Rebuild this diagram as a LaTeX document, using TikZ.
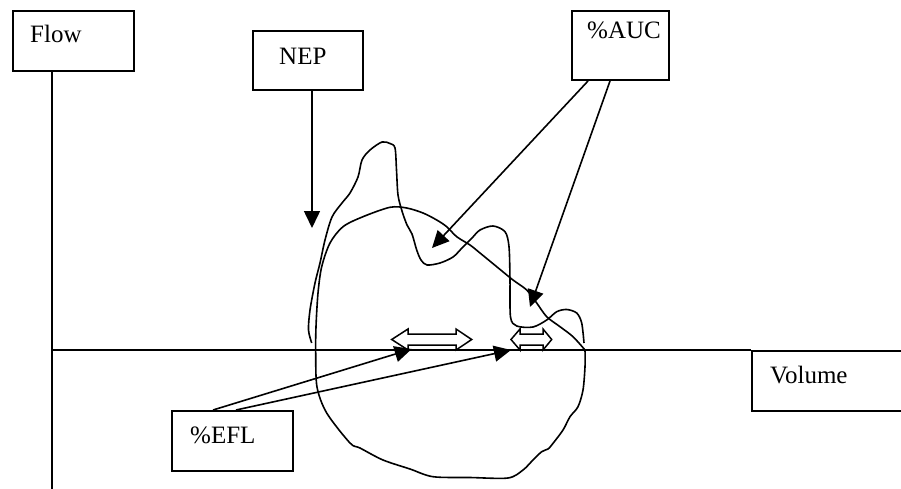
\documentclass[tikz,border=0pt]{standalone}
\usepackage{fontspec}
\setmainfont{Liberation Serif}
\usetikzlibrary{arrows.meta,calc}
\begin{document}
\begin{tikzpicture}[x=1pt,y=-1pt,
  labelbox/.style={draw, line width=2pt, fill=white, inner sep=0pt, anchor=north west},
  lbl/.style={inner sep=0pt, anchor=base west, font=\fontsize{25}{30}\selectfont},
  axisline/.style={line width=2pt},
  pointer/.style={line width=1.6pt, -{Triangle[length=17pt,width=16pt]}},
  curvepath/.style={line width=1.6pt, line join=round},
  gapmark/.style={line width=1.5pt, fill=white, line join=miter}]
\useasboundingbox (0,0) rectangle (901,489);

% label boxes
\node[labelbox, minimum width=121pt, minimum height=60pt] (flow) at (12,10) {};
\node[lbl] (flowtxt) at (30,43) {Flow};
\node[labelbox, minimum width=110pt, minimum height=59pt] (nep) at (252,30) {};
\node[lbl] (neptxt) at (279,65) {NEP};
\node[labelbox, minimum width=97pt, minimum height=69pt] (auc) at (571,10) {};
\node[lbl] (auctxt) at (587,39) {\%AUC};
\node[labelbox, minimum width=121pt, minimum height=60pt] (efl) at (171,410) {};
\node[lbl] (efltxt) at (190,443) {\%EFL};
\node[labelbox, minimum width=154pt, minimum height=60pt] (volume) at (751,350) {};
\node[lbl] (voltxt) at (770,383) {Volume};

% axes
\coordinate (ytop) at ($(flow.south west)+(40,0)$);
\coordinate (ybot) at (52,489);
\coordinate (origin) at (52,350);
\draw[axisline] (ytop) -- (ybot);
\draw[axisline] (origin) -- (volume.north west);

% first loop (tall peak)
\draw[curvepath] plot[smooth, tension=0.5] coordinates {
 (311.7,343) (308.5,330) (310,310) (315,283) (320,263) (325,240) (332,217)
 (342,203) (350,193) (358,177) (362,160) (370,150) (382,142) (390,143.5)
 (395,148) (396.5,170) (398,195) (402,211) (407,225) (412,234) (416.7,250)
 (421,260) (427,265) (440,263) (453,257) (462,248) (472,238) (480,230)
 (493,226) (505,231.7) (509,246.7) (510,280) (510.5,317) (516.7,326)
 (533,327) (546.7,320) (556.7,311.7) (566.7,309.5) (576.7,313) (581.7,323)
 (584,343)};

% second loop (broad, closed)
\draw[curvepath] plot[smooth, tension=0.5] coordinates {
 (585,350) (585,366.7) (583,390) (578,406.7) (570,416.7) (563,430)
 (551.7,445) (548,449) (541.7,451.7) (533,460) (523,470) (508,478)
 (470,477.5) (433,476.7) (410,469) (383,460) (360,448) (350,443)
 (326.7,413) (317,387) (315.7,353) (316,326.7) (318,293) (321.7,266.7)
 (330,243) (343,226.7) (363,216.7) (390,207.3) (406.7,208) (423,213)
 (436.7,220) (446.7,226.7) (456.7,236.7) (470,245) (480,253) (496.7,266.7)
 (513,280) (526.7,290) (536.7,303) (546.7,316.7) (560,326.7) (573,336.7)
 (585,350)};

% hollow double arrows on the volume axis
\draw[gapmark] (391.7,339.5) -- (408,329) -- (408,334) -- (456,334) -- (456,329)
  -- (471.7,339.5) -- (456,350) -- (456,345) -- (408,345) -- (408,350) -- cycle;
\draw[gapmark] (511,339.5) -- (520,329) -- (520,334) -- (543,334) -- (543,329)
  -- (551.7,339.5) -- (543,350) -- (543,345) -- (520,345) -- (520,350) -- cycle;

% NEP pointer
\coordinate (nepfoot) at ($(nep.south west)+(60,0)$);
\coordinate (neptip) at (312,228);
\draw[pointer] (nepfoot) -- (neptip);

% %AUC pointers
\coordinate (aucA) at ($(auc.south west)+(17,0)$);
\coordinate (aucB) at ($(auc.south west)+(39,0)$);
\coordinate (auctipA) at (432,248);
\coordinate (auctipB) at (530,307);
\draw[pointer] (aucA) -- (auctipA);
\draw[pointer] (aucB) -- (auctipB);

% %EFL pointers
\coordinate (eflA) at ($(efl.north west)+(42,0)$);
\coordinate (eflB) at ($(efl.north west)+(65,0)$);
\coordinate (efltipA) at (411.7,349);
\coordinate (efltipB) at (511,350);
\draw[pointer] (eflA) -- (efltipA);
\draw[pointer] (eflB) -- (efltipB);
\end{tikzpicture}
\end{document}
